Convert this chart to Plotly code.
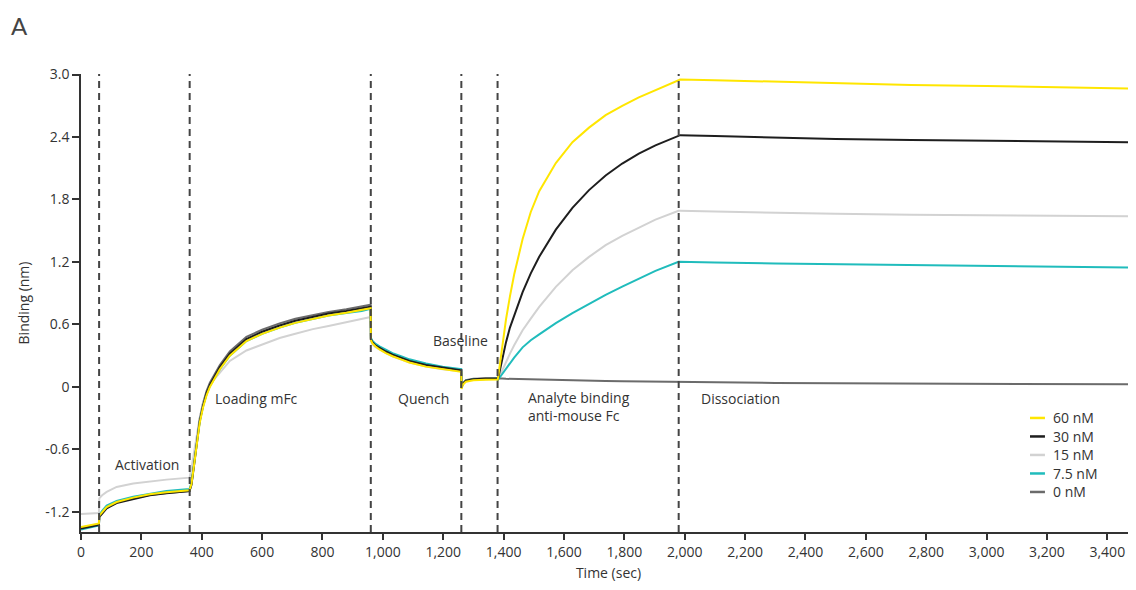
import plotly.graph_objects as go

# ---- time points (sec) ----
time_s = [
    0, 30, 59.5,
    60.5, 70, 85, 118, 173, 228, 283, 359.5,
    360.5, 366, 375, 383, 393, 404, 416, 427, 438, 460, 493, 548, 600, 658, 710, 768, 820, 879, 930, 959.5,
    960.5, 965, 975, 989, 1010, 1032, 1060, 1088, 1143, 1198, 1259.5,
    1260.5, 1265, 1275, 1300, 1340, 1379.5,
    1380.5, 1395, 1408, 1421, 1435, 1463, 1490, 1518, 1573, 1628, 1683, 1738, 1793, 1848, 1903, 1979.5,
    1985, 2100, 2300, 2500, 2750, 3000, 3250, 3480,
]

# ---- binding values (nm) ----
nm60 = [
    -1.345, -1.33, -1.31,
    -1.235, -1.20, -1.153, -1.105, -1.063, -1.031, -1.012, -0.993,
    -0.98, -0.93, -0.74, -0.54, -0.35, -0.20, -0.08, 0.0, 0.06, 0.17, 0.30, 0.44, 0.51, 0.57, 0.615, 0.655, 0.685, 0.712, 0.735, 0.755,
    0.45, 0.42, 0.39, 0.36, 0.325, 0.295, 0.265, 0.235, 0.195, 0.168, 0.145,
    -0.02, 0.02, 0.05, 0.065, 0.07, 0.072,
    0.064, 0.40, 0.65, 0.87, 1.08, 1.42, 1.68, 1.88, 2.15, 2.35, 2.49, 2.61, 2.70, 2.78, 2.85, 2.946,
    2.952, 2.945, 2.93, 2.915, 2.90, 2.89, 2.88, 2.866,
]
nm30 = [
    -1.36, -1.345, -1.325,
    -1.25, -1.215, -1.165, -1.115, -1.075, -1.04, -1.02, -1.0,
    -0.99, -0.94, -0.74, -0.53, -0.33, -0.18, -0.06, 0.02, 0.08, 0.19, 0.32, 0.46, 0.53, 0.59, 0.635, 0.675, 0.705, 0.73, 0.752, 0.77,
    0.46, 0.43, 0.40, 0.375, 0.34, 0.31, 0.28, 0.25, 0.21, 0.183, 0.16,
    -0.01, 0.03, 0.06, 0.075, 0.08, 0.082,
    0.064, 0.27, 0.43, 0.57, 0.69, 0.91, 1.09, 1.25, 1.51, 1.72, 1.89, 2.03, 2.145, 2.24, 2.32, 2.417,
    2.418, 2.41, 2.395, 2.38, 2.372, 2.365, 2.36, 2.35,
]
nm15 = [
    -1.22, -1.215, -1.21,
    -1.07, -1.04, -1.008, -0.96, -0.928, -0.906, -0.89, -0.871,
    -0.86, -0.78, -0.62, -0.46, -0.30, -0.16, -0.06, 0.01, 0.06, 0.14, 0.25, 0.35, 0.41, 0.47, 0.51, 0.555, 0.585, 0.62, 0.65, 0.672,
    0.44, 0.41, 0.385, 0.36, 0.325, 0.295, 0.265, 0.235, 0.195, 0.17, 0.15,
    -0.01, 0.03, 0.06, 0.07, 0.075, 0.078,
    0.064, 0.160, 0.240, 0.320, 0.400, 0.544, 0.656, 0.768, 0.961, 1.121, 1.249, 1.361, 1.451, 1.531, 1.606, 1.691,
    1.693, 1.685, 1.672, 1.662, 1.654, 1.648, 1.642, 1.638,
]
nm7_5 = [
    -1.37, -1.35, -1.33,
    -1.23, -1.19, -1.14, -1.095, -1.055, -1.025, -1.0, -0.98,
    -0.97, -0.92, -0.73, -0.53, -0.34, -0.19, -0.07, 0.01, 0.06, 0.17, 0.30, 0.44, 0.51, 0.57, 0.615, 0.655, 0.685, 0.71, 0.73, 0.75,
    0.47, 0.445, 0.415, 0.39, 0.355, 0.325, 0.295, 0.265, 0.225, 0.195, 0.17,
    -0.01, 0.03, 0.06, 0.072, 0.078, 0.08,
    0.064, 0.122, 0.176, 0.230, 0.282, 0.380, 0.448, 0.505, 0.612, 0.708, 0.800, 0.884, 0.963, 1.040, 1.115, 1.201,
    1.201, 1.195, 1.185, 1.178, 1.169, 1.162, 1.155, 1.146,
]
nm0 = [
    -1.35, -1.335, -1.32,
    -1.24, -1.205, -1.16, -1.11, -1.07, -1.038, -1.018, -1.0,
    -0.99, -0.93, -0.72, -0.51, -0.31, -0.16, -0.04, 0.04, 0.10, 0.21, 0.34, 0.48, 0.55, 0.61, 0.655, 0.69, 0.72, 0.745, 0.77, 0.79,
    0.46, 0.43, 0.40, 0.375, 0.34, 0.31, 0.28, 0.25, 0.21, 0.183, 0.16,
    0.0, 0.035, 0.065, 0.078, 0.082, 0.085,
    0.082, 0.08, 0.078, 0.077, 0.076, 0.074, 0.072, 0.07, 0.066, 0.063, 0.06, 0.058, 0.055, 0.053, 0.05, 0.048,
    0.045, 0.042, 0.038, 0.035, 0.032, 0.03, 0.028, 0.025,
]

# ---- step boundaries and labels ----
step_bounds = [60, 360, 960, 1260, 1380, 1980, 3480]
step_labels = ["Activation", "Loading mFc", "Quench", "Baseline",
               "Analyte binding<br>anti-mouse Fc", "Dissociation"]
label_x = [106, 437, 1045, 1161, 1475, 2048]
label_y = [-0.74, -0.11, -0.11, 0.45, -0.19, -0.11]

x_ticks = list(range(0, 3401, 200))
y_ticks = [-1.2, -0.6, 0, 0.6, 1.2, 1.8, 2.4, 3.0]
y_tick_text = ["-1.2", "-0.6", "0", "0.6", "1.2", "1.8", "2.4", "3.0"]

# drawing order (bottom to top) and legend order
series = [
    ("0 nM", nm0, "#6b6b6b"),
    ("15 nM", nm15, "#d2d2d2"),
    ("7.5 nM", nm7_5, "#20bcbc"),
    ("30 nM", nm30, "#1e1e1e"),
    ("60 nM", nm60, "#ffe600"),
]
legend_order = ["60 nM", "30 nM", "15 nM", "7.5 nM", "0 nM"]

FONT = "'Open Sans', Lato, sans-serif"
TXT = "#333333"

fig = go.Figure()
for name, vals, col in series:
    fig.add_trace(go.Scatter(
        x=time_s, y=vals, mode="lines", name=name,
        line=dict(color=col, width=2), showlegend=False,
    ))

for b in step_bounds:
    fig.add_shape(type="line", xref="x", yref="paper", x0=b, x1=b, y0=0, y1=1,
                  line=dict(color="#444444", width=2, dash="7px,5px"), layer="above")

for txt, lx, ly in zip(step_labels, label_x, label_y):
    fig.add_annotation(x=lx, y=ly, xref="x", yref="y", text=txt, showarrow=False,
                       xanchor="left", yanchor="middle", align="left",
                       font=dict(family=FONT, size=14, color=TXT))

# legend drawn as small line keys + labels
colors = {n: c for n, _, c in series}
leg_top = 0.249
leg_step = 0.0404
for i, name in enumerate(legend_order):
    yy = leg_top - i * leg_step
    fig.add_shape(type="line", xref="paper", yref="paper", x0=0.8995, x1=0.9137, y0=yy, y1=yy,
                  line=dict(color=colors[name], width=2.5))
    fig.add_annotation(x=0.9194, y=yy, xref="paper", yref="paper", text=name, showarrow=False,
                       xanchor="left", yanchor="middle",
                       font=dict(family=FONT, size=14, color=TXT))

fig.add_annotation(x=-0.068, y=1.142, xref="paper", yref="paper", text="A",
                   showarrow=False, xanchor="left", yanchor="top",
                   font=dict(family="Lato, sans-serif", size=24, color="#444444"))

fig.update_layout(
    width=1128, height=574,
    margin=dict(l=73, r=0, t=66, b=50),
    paper_bgcolor="white", plot_bgcolor="white",
    font=dict(family=FONT, size=14, color=TXT),
    showlegend=False,
    xaxis=dict(range=[0, 3495], tickvals=x_ticks, tickformat=",d", automargin=False,
               showgrid=False, zeroline=False, showline=True, linecolor="#333333", linewidth=1.5,
               ticks="outside", ticklen=6, tickcolor="#333333", tickwidth=1.5,
               title=dict(text="Time (sec)", font=dict(family=FONT, size=14, color=TXT), standoff=12),
               tickfont=dict(family=FONT, size=14, color=TXT)),
    yaxis=dict(range=[-1.393, 3.005], tickvals=y_ticks, ticktext=y_tick_text, automargin=False,
               showgrid=False, zeroline=False, showline=True, linecolor="#333333", linewidth=1.5,
               ticks="outside", ticklen=7, tickcolor="#333333", tickwidth=1.5,
               title=dict(text="Binding (nm)", font=dict(family=FONT, size=14, color=TXT), standoff=12),
               tickfont=dict(family=FONT, size=14, color=TXT)),
)

fig.write_html("out.html")
